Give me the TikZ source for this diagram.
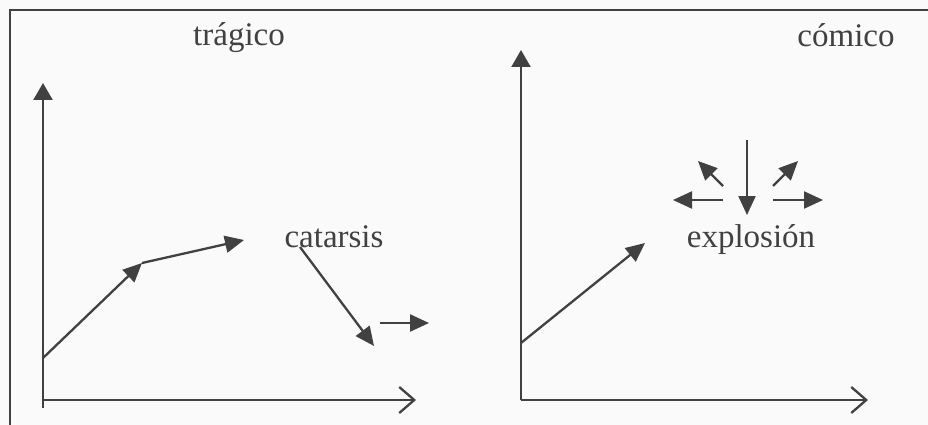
\documentclass[tikz,border=0pt]{standalone}
\usepackage{fontspec}
\setmainfont{Liberation Serif}
\usetikzlibrary{arrows.meta, positioning}
\definecolor{ink}{HTML}{414141}
\definecolor{paper}{HTML}{FAFAFA}

\begin{document}
\begin{tikzpicture}[x=1pt, y=-1pt, color=ink, line width=2.3pt,
        lbl/.style={anchor=base, inner sep=0pt, font=\fontsize{33}{36}\selectfont},
        vec/.style={-{Triangle[length=19pt, width=17pt]}},
        axisy/.style={-{Triangle[length=17pt, width=19pt]}},
        axisx/.style={-{Straight Barb[length=15pt, width=26pt, line width=2.3pt]}}]
        \fill[paper] (0,0) rectangle (928,425);
        \useasboundingbox (0,0) rectangle (928,425);
        \draw[line width=1.5pt] (10,425) -- (10,10) -- (928,10);

        % tragico
        \node[lbl] (tragico) at (239,46) {trágico};
        \node[lbl] (catarsis) at (334,247) {catarsis};
        \coordinate (O1) at (43,408);
        \coordinate (Y1) at (43,83);
        \coordinate (A1) at (43,400);
        \coordinate (X1) at (416,400);
        \coordinate (P1) at (43,358);
        \coordinate (P2) at (142,263);
        \coordinate (P3) at (244,240);
        \coordinate (C1) at (300,247);
        \coordinate (C2) at (374,346);
        \coordinate (R1) at (380,323);
        \coordinate (R2) at (429,323);

        \draw[axisy] (O1) -- (Y1);
        \draw[axisx] (A1) -- (X1);
        \draw[vec] (P1) -- (P2);
        \draw[vec] (P2) -- (P3);
        \draw[vec] (C1) -- (C2);
        \draw[vec] (R1) -- (R2);

        % comico
        \node[lbl] (comico) at (846,47) {cómico};
        \node[lbl] (explosion) at (751,247) {explosión};
        \coordinate (O2) at (521,400);
        \coordinate (Y2) at (521,50);
        \coordinate (X2) at (868,400);
        \coordinate (Q1) at (521,343);
        \coordinate (Q2) at (645,243);
        \coordinate (D1) at (747,140);
        \coordinate (D2) at (747,215);
        \coordinate (L1) at (723,200);
        \coordinate (L2) at (673,200);
        \coordinate (E1) at (773,200);
        \coordinate (E2) at (823,200);
        \coordinate (UL1) at (723,186);
        \coordinate (UL2) at (698,161);
        \coordinate (UR1) at (773,186);
        \coordinate (UR2) at (798,161);

        \draw[axisy] (O2) -- (Y2);
        \draw[axisx] (O2) -- (X2);
        \draw[vec] (Q1) -- (Q2);
        \draw[vec] (D1) -- (D2);
        \draw[vec] (L1) -- (L2);
        \draw[vec] (E1) -- (E2);
        \draw[vec] (UL1) -- (UL2);
        \draw[vec] (UR1) -- (UR2);
    \end{tikzpicture}
\end{document}
